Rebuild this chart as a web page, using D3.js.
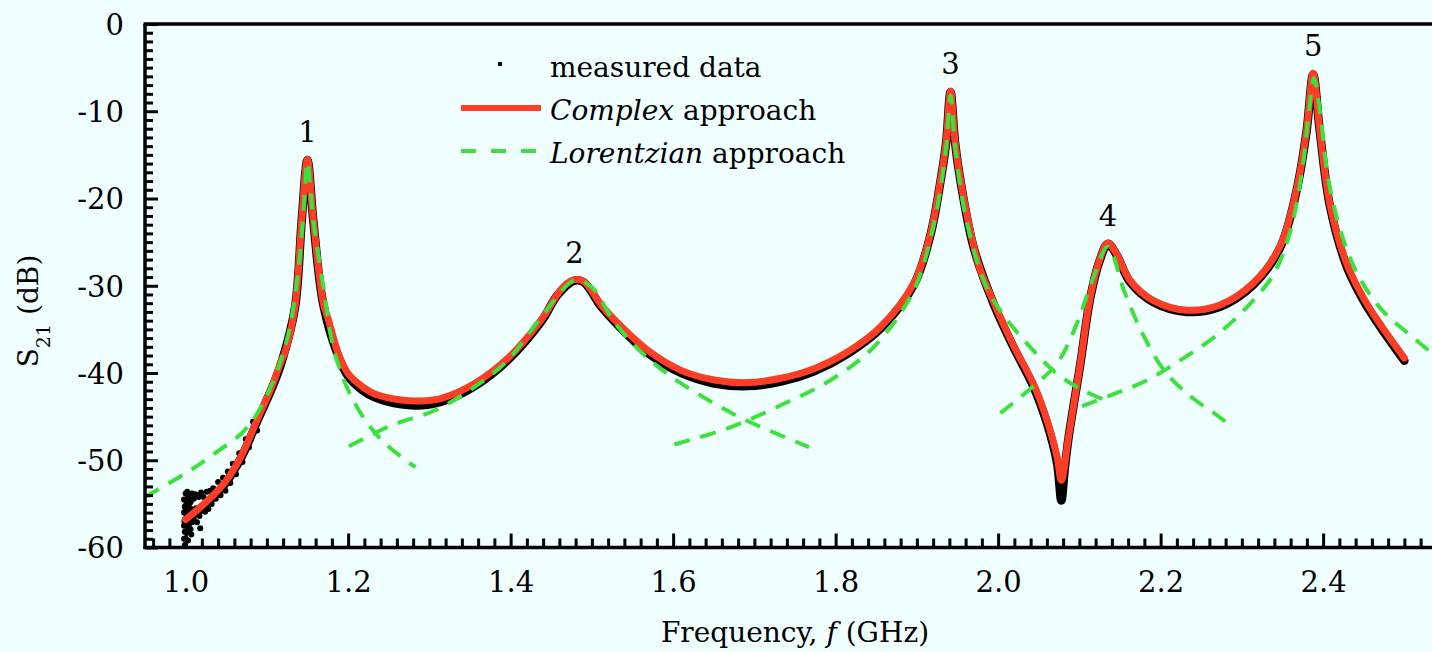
<!DOCTYPE html>
<html>
<head>
<meta charset="utf-8">
<script src="https://cdn.jsdelivr.net/npm/d3@7"></script>
<style>
  html, body { margin: 0; padding: 0; background: #f0ffff; }
  svg { display: block; font-family: "DejaVu Serif", serif; }
</style>
</head>
<body>
<svg id="chart" width="1432" height="652"></svg>
<script>
// Complex-approach fit of |S21| (frequency in GHz, level in dB)
const fitF  = [1.000, 1.025, 1.0486, 1.069, 1.0897, 1.106, 1.1183, 1.1224, 1.1346, 1.1429, 1.1499,
               1.1572, 1.1695, 1.1757, 1.1880, 1.2002, 1.2166, 1.2329, 1.2657, 1.2900, 1.3149,
               1.3558, 1.3968, 1.4377, 1.4582, 1.4700, 1.4786, 1.4900, 1.5114, 1.5278, 1.5688,
               1.6097, 1.6506, 1.6916, 1.7325, 1.7735, 1.8145, 1.8554, 1.8963, 1.9169, 1.9291,
               1.9360, 1.9414, 1.9470, 1.9537, 1.9701, 1.9782, 1.9946, 2.0192, 2.0437, 2.0602,
               2.0725, 2.0778, 2.0867, 2.1011, 2.1134, 2.1250, 2.1351, 2.1460, 2.1625, 2.1912,
               2.2322, 2.2731, 2.3140, 2.3468, 2.3673, 2.3796, 2.3877, 2.3959, 2.4082, 2.4287,
               2.4491, 2.4695, 2.5000];
const fitDb = [-56.8, -54.8, -52.5, -49.4, -45.0, -41.6, -38.5, -37.6, -32.4, -22.5, -15.5,
               -22.5, -32.0, -33.9, -37.8, -40.1, -41.5, -42.4, -43.1, -43.2, -42.9,
               -41.2, -38.3, -33.9, -30.9, -29.7, -29.3, -29.5, -32.2, -33.9, -37.4,
               -39.7, -40.8, -41.1, -40.6, -39.5, -37.6, -34.7, -29.7, -24.0, -17.9,
               -13.5, -7.7, -13.5, -17.9, -25.5, -28.2, -31.9, -36.9, -41.3, -45.4,
               -49.6, -52.3, -47.3, -38.9, -31.3, -27.0, -25.1, -26.4, -29.4, -31.7,
               -32.8, -32.2, -29.7, -25.5, -19.0, -12.2, -5.65, -12.2, -20.6, -27.4,
               -31.3, -34.3, -38.3];

// Measured S21 trace (dense sweep, drawn as a band of points)
const measF  = [1.000, 1.025, 1.0486, 1.069, 1.0897, 1.106, 1.1183, 1.1346, 1.1429, 1.1499,
                1.1572, 1.1695, 1.1880, 1.2002, 1.2166, 1.2329, 1.2657, 1.2900, 1.3149, 1.3558,
                1.3968, 1.4377, 1.4582, 1.4786, 1.4900, 1.5114, 1.5278, 1.5688, 1.6097, 1.6506,
                1.6916, 1.7325, 1.7735, 1.8145, 1.8554, 1.8963, 1.9169, 1.9291, 1.9360, 1.9414,
                1.9470, 1.9537, 1.9701, 1.9946, 2.0192, 2.0437, 2.0602, 2.0725, 2.0778, 2.0820,
                2.0867, 2.1011, 2.1134, 2.1250, 2.1351, 2.1460, 2.1625, 2.1912, 2.2322, 2.2731,
                2.3140, 2.3468, 2.3673, 2.3796, 2.3877, 2.3959, 2.4082, 2.4287, 2.4491, 2.4695,
                2.5000];
const measDb = [-57.0, -55.0, -52.7, -49.6, -45.2, -41.8, -38.7, -32.5, -22.5, -15.6,
                -22.6, -32.2, -38.1, -40.4, -41.9, -42.8, -43.6, -43.7, -43.3, -41.5,
                -38.5, -34.1, -31.0, -29.4, -29.6, -32.4, -34.1, -37.7, -40.0, -41.2,
                -41.5, -41.0, -39.8, -37.8, -34.9, -29.9, -24.1, -18.0, -13.6, -7.8,
                -13.6, -18.0, -25.7, -32.1, -37.1, -41.6, -45.8, -50.3, -54.6, -51.0,
                -47.4, -39.0, -31.4, -27.1, -25.2, -26.5, -29.6, -31.9, -33.0, -32.4,
                -29.9, -25.7, -19.1, -12.3, -5.8, -12.3, -20.8, -27.7, -31.6, -34.6,
                -38.6];

// Scattered low-level samples near the start of the sweep
const noiseF  = [0.998, 0.998, 0.998, 0.998, 0.998, 0.999, 0.999, 0.999, 0.999, 1.000, 1.000,
                 1.000, 1.000, 1.001, 1.001, 1.001, 1.002, 1.002, 1.002, 1.003, 1.003, 1.003,
                 1.004, 1.004, 1.005, 1.005, 1.006, 1.006, 1.007, 1.007, 1.008, 1.008, 1.009,
                 1.010, 1.010, 1.011, 1.012, 1.013, 1.014, 1.016, 1.017, 1.018, 1.019, 1.020,
                 1.022, 1.024, 1.026, 1.028, 1.030, 1.032, 1.034, 1.037, 1.040, 1.043, 1.046,
                 1.049, 1.052, 1.055, 1.058, 1.062, 1.066, 1.070, 1.074, 1.078, 1.083, 1.088];
const noiseDb = [-54.5, -56.0, -57.5, -59.0, -60.2, -55.3, -56.8, -58.2, -59.7, -53.8, -55.6,
                 -57.0, -59.0, -54.9, -56.5, -58.3, -53.6, -55.8, -57.6, -54.3, -56.9, -59.2,
                 -55.3, -57.6, -53.9, -56.2, -54.8, -57.9, -55.6, -58.5, -53.8, -57.1, -55.9,
                 -54.4, -56.8, -55.7, -53.9, -55.5, -57.1, -54.2, -56.4, -57.8, -53.7, -55.8,
                 -54.2, -55.9, -53.6, -55.6, -53.5, -55.0, -53.2, -54.4, -52.5, -54.0, -52.0,
                 -53.5, -51.3, -52.6, -50.4, -51.6, -49.2, -50.2, -47.6, -48.5, -45.6, -46.6];

// Individual Lorentzian fits, one per resonance
const lor1F  = [0.950, 0.980, 1.010, 1.036, 1.069, 1.0897, 1.110, 1.1265, 1.1388, 1.1457, 1.1499,
                1.1572, 1.1695, 1.1838, 1.2084, 1.2412, 1.2829];
const lor1Db = [-54.2, -52.6, -50.9, -49.2, -46.9, -44.4, -40.4, -35.5, -28.2, -20.6, -15.8,
                -22.5, -30.1, -37.8, -43.5, -47.7, -50.8];
const lor2F  = [1.2010, 1.2533, 1.3066, 1.3557, 1.3968, 1.4377, 1.4786, 1.4991, 1.5287, 1.5606,
                1.5975, 1.6506, 1.6916, 1.7673];
const lor2Db = [-48.4, -46.0, -44.3, -41.6, -38.5, -33.6, -29.4, -30.1, -34.3, -37.6,
                -40.4, -43.5, -45.5, -48.5];
const lor3F  = [1.6015, 1.6711, 1.7325, 1.7940, 1.8472, 1.8963, 1.9209, 1.9357, 1.9414,
                1.9475, 1.9619, 1.9865, 2.0110, 2.0392, 2.0725, 2.1048, 2.1400];
const lor3Db = [-48.2, -46.2, -43.7, -40.8, -37.0, -30.5, -22.9, -14.4, -8.2,
                -14.4, -22.9, -30.3, -33.9, -37.0, -40.1, -42.0, -43.4];
const lor4F  = [2.0028, 2.0397, 2.0725, 2.0971, 2.1175, 2.1351, 2.1548, 2.1757, 2.2043, 2.2371,
                2.2658, 2.2904];
const lor4Db = [-44.6, -41.8, -38.9, -34.3, -29.0, -25.5, -30.5, -35.1, -39.7, -42.7,
                -44.6, -46.3];
const lor5F  = [2.1032, 2.1427, 2.1839, 2.2248, 2.2658, 2.3067, 2.3395, 2.3600, 2.3743, 2.3824,
                2.3887, 2.3964, 2.4066, 2.4238, 2.4443, 2.4725, 2.5050, 2.5350];
const lor5Db = [-43.8, -42.4, -40.8, -38.5, -35.9, -32.4, -28.6, -23.6, -16.7, -10.2,
                -6.2, -10.2, -17.9, -24.4, -29.0, -32.8, -35.5, -37.8];

// Resonance numbering
const peakIds = ["1", "2", "3", "4", "5"];
const peakF   = [1.1499, 1.4786, 1.9414, 2.1351, 2.3877];
const peakDb  = [-15.5, -29.3, -7.7, -25.1, -5.65];

// Axis ticks
const xMajor = [1.0, 1.2, 1.4, 1.6, 1.8, 2.0, 2.2, 2.4];
const yMajor = [0, -10, -20, -30, -40, -50, -60];

const W = 1432, H = 652;
const plot = { left: 145, right: 1445, top: 24, bottom: 547.5 };

const x = d3.scaleLinear().domain([0.95, 2.55]).range([plot.left, plot.right]);
const y = d3.scaleLinear().domain([-60, 0]).range([plot.bottom, plot.top]);

const svg = d3.select("#chart");
svg.append("rect").attr("width", W).attr("height", H).attr("fill", "#f0ffff");

svg.append("defs").append("clipPath").attr("id", "plotClip")
  .append("rect")
  .attr("x", plot.left).attr("y", plot.top)
  .attr("width", plot.right - plot.left).attr("height", plot.bottom - plot.top);

const zip = (a, b) => a.map((v, i) => [v, b[i]]);
const line = d3.line().x(d => x(d[0])).y(d => y(d[1])).curve(d3.curveCatmullRom.alpha(0.5));

const g = svg.append("g").attr("clip-path", "url(#plotClip)");

// Measured trace
g.append("path")
  .attr("d", line(zip(measF, measDb)))
  .attr("fill", "none").attr("stroke", "#000")
  .attr("stroke-width", 8.5).attr("stroke-linejoin", "round").attr("stroke-linecap", "round");
g.selectAll("circle.noise").data(zip(noiseF, noiseDb)).join("circle")
  .attr("class", "noise")
  .attr("cx", d => x(d[0])).attr("cy", d => y(d[1])).attr("r", 3).attr("fill", "#000");

// Complex-approach fit
g.append("path")
  .attr("d", line(zip(fitF, fitDb)))
  .attr("fill", "none").attr("stroke", "#fd3d26")
  .attr("stroke-width", 7).attr("stroke-linejoin", "round").attr("stroke-linecap", "round");

// Lorentzian fits
const lors = [[lor1F, lor1Db], [lor2F, lor2Db], [lor3F, lor3Db], [lor4F, lor4Db], [lor5F, lor5Db]];
lors.forEach(([fs, ds]) => {
  g.append("path")
    .attr("d", line(zip(fs, ds)))
    .attr("fill", "none").attr("stroke", "#3de13d")
    .attr("stroke-width", 4).attr("stroke-dasharray", "16,11");
});

// Axes
const fmtY = d => String(d);
const yMinor = d3.range(0, -61, -1).filter(v => v % 10 !== 0);
const xMinor = d3.range(0.96, 2.55, 0.02).filter(v => Math.abs(v * 5 - Math.round(v * 5)) > 1e-6);

function styleAxis(sel) {
  sel.select(".domain").remove();
  sel.selectAll(".tick line").attr("stroke", "#000").attr("stroke-width", 3);
  sel.selectAll(".tick text").attr("fill", "#000").attr("font-size", 29)
    .attr("font-family", "DejaVu Serif, serif");
}

svg.append("g").attr("transform", `translate(${plot.left},0)`)
  .call(d3.axisLeft(y).tickValues(yMinor).tickSize(-8).tickFormat(""))
  .call(styleAxis);
svg.append("g").attr("transform", `translate(${plot.left},0)`)
  .call(d3.axisLeft(y).tickValues(yMajor).tickSize(-13).tickPadding(21).tickFormat(fmtY))
  .call(styleAxis)
  .call(s => s.selectAll(".tick text").attr("dy", "0.36em"));

svg.append("g").attr("transform", `translate(0,${plot.bottom})`)
  .call(d3.axisBottom(x).tickValues(xMinor).tickSize(-9).tickFormat(""))
  .call(styleAxis);
svg.append("g").attr("transform", `translate(0,${plot.bottom})`)
  .call(d3.axisBottom(x).tickValues(xMajor).tickSize(-14).tickPadding(24).tickFormat(d3.format(".1f")))
  .call(styleAxis);

// Frame lines
const frame = svg.append("g").attr("stroke", "#000").attr("stroke-width", 3.5).attr("fill", "none");
frame.append("line").attr("x1", plot.left).attr("x2", plot.left).attr("y1", plot.top).attr("y2", plot.bottom + 1.5);
frame.append("line").attr("x1", plot.left - 1.5).attr("x2", plot.right).attr("y1", plot.bottom).attr("y2", plot.bottom);
frame.append("line").attr("x1", plot.left - 1.5).attr("x2", plot.right).attr("y1", plot.top).attr("y2", plot.top);

// Resonance numbers
svg.selectAll("text.peak").data(peakIds).join("text")
  .attr("class", "peak")
  .attr("x", (d, i) => x(peakF[i]))
  .attr("y", (d, i) => y(peakDb[i]) - 17)
  .attr("text-anchor", "middle").attr("font-size", 29).attr("fill", "#000")
  .text(d => d);

// Axis titles
const xt = svg.append("text").attr("x", 795).attr("y", 642)
  .attr("text-anchor", "middle").attr("font-size", 28).attr("fill", "#000");
xt.append("tspan").text("Frequency, ");
xt.append("tspan").attr("font-style", "italic").text("f");
xt.append("tspan").text(" (GHz)");

const yt = svg.append("text").attr("transform", "translate(38,311) rotate(-90)")
  .attr("text-anchor", "middle").attr("font-size", 28).attr("fill", "#000");
yt.append("tspan").text("S");
yt.append("tspan").attr("font-size", 19).attr("dy", 12).text("21");
yt.append("tspan").attr("dy", -12).text(" (dB)");

// Legend
const lg = svg.append("g").attr("font-size", 28).attr("fill", "#000");
lg.append("rect").attr("x", 498).attr("y", 62).attr("width", 4).attr("height", 4).attr("fill", "#000");
lg.append("text").attr("x", 550).attr("y", 77).text("measured data");
lg.append("line").attr("x1", 461).attr("x2", 541).attr("y1", 108).attr("y2", 108)
  .attr("stroke", "#fd3d26").attr("stroke-width", 6);
const t2 = lg.append("text").attr("x", 550).attr("y", 120);
t2.append("tspan").attr("font-style", "italic").text("Complex");
t2.append("tspan").text(" approach");
lg.append("line").attr("x1", 461).attr("x2", 541).attr("y1", 151).attr("y2", 151)
  .attr("stroke", "#3de13d").attr("stroke-width", 4).attr("stroke-dasharray", "15,15");
const t3 = lg.append("text").attr("x", 550).attr("y", 163);
t3.append("tspan").attr("font-style", "italic").text("Lorentzian");
t3.append("tspan").text(" approach");
</script>
</body>
</html>
